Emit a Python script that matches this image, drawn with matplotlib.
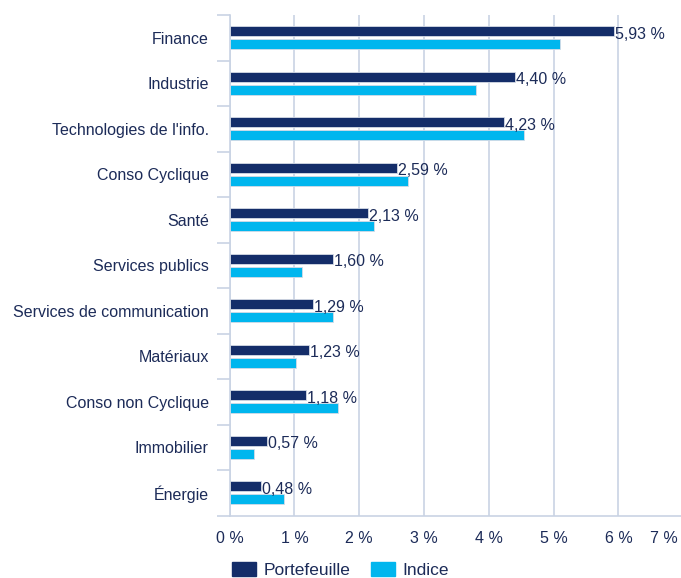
import numpy as np
import matplotlib
matplotlib.use("Agg")
import matplotlib.pyplot as plt
from matplotlib.transforms import ScaledTranslation

plt.rcParams['font.family'] = ['Liberation Sans', 'DejaVu Sans']

# data
secteurs = ["Finance", "Industrie", "Technologies de l'info.", "Conso Cyclique",
            "Santé", "Services publics", "Services de communication", "Matériaux",
            "Conso non Cyclique", "Immobilier", "Énergie"]
portefeuille = [5.93, 4.40, 4.23, 2.59, 2.13, 1.60, 1.29, 1.23, 1.18, 0.57, 0.48]
indice = [5.10, 3.80, 4.54, 2.76, 2.23, 1.11, 1.59, 1.02, 1.67, 0.37, 0.84]
xticks = [0, 1, 2, 3, 4, 5, 6, 7]

navy = '#142d69'
cyan = '#00b6ee'
grid_col = '#c9d3e4'
txt = '#1c2b58'

W, H = 681, 578
fig = plt.figure(figsize=(W / 100, H / 100), dpi=100)
ax = fig.add_axes([229.6 / W, (H - 515.5) / H, 453.6 / W, (515.5 - 15) / H])

y = np.arange(len(secteurs))
off = 0.143
bh = 0.225
ax.barh(y - off, portefeuille, height=bh, color=navy, edgecolor='#d5dbe6',
        linewidth=0.6, zorder=3)
ax.barh(y + off, indice, height=bh, color=cyan, edgecolor='#d5dbe6',
        linewidth=0.6, zorder=3)

for yi, v in zip(y, portefeuille):
    ax.text(v + 0.015, yi - off + 0.07, f"{v:.2f} %".replace('.', ','),
            va='center', ha='left', fontsize=11.5, color=txt, zorder=4)

ax.set_xlim(0, 7)
ax.set_ylim(len(secteurs) - 0.5, -0.5)
ax.set_xticks(xticks)
ax.set_xticklabels([f"{t} %" for t in xticks])
ax.set_yticks(y)
ax.set_yticklabels(secteurs)
ax.set_yticks(np.arange(-0.5, len(secteurs)), minor=True)

ax.tick_params(axis='y', which='major', length=0, pad=15, labelsize=11.5, labelcolor=txt)
ax.tick_params(axis='y', which='minor', length=9.4, width=1.2, color=grid_col, direction='out')
ax.tick_params(axis='x', which='major', length=0, pad=11, labelsize=11.5, labelcolor=txt)

for s in ['top', 'right']:
    ax.spines[s].set_visible(False)
for s in ['left', 'bottom']:
    ax.spines[s].set_color(grid_col)
    ax.spines[s].set_linewidth(1.2)

ax.set_axisbelow(True)
ax.xaxis.grid(True, color=grid_col, linewidth=1.2)

# keep the last tick label inside the figure
last = ax.get_xticklabels()[-1]
last.set_transform(last.get_transform() + ScaledTranslation(-14 / 72, 0, fig.dpi_scale_trans))

handles = [plt.Rectangle((0, 0), 1, 1, color=navy), plt.Rectangle((0, 0), 1, 1, color=cyan)]
fig.legend(handles, ["Portefeuille", "Indice"], loc='center', bbox_to_anchor=(0.5, 0.014),
           ncol=2, frameon=False, fontsize=12.5, labelcolor=txt, handlelength=1.4,
           handleheight=0.9, handletextpad=0.4, columnspacing=1.2, borderaxespad=0)

fig.savefig("out.png", dpi=100)
